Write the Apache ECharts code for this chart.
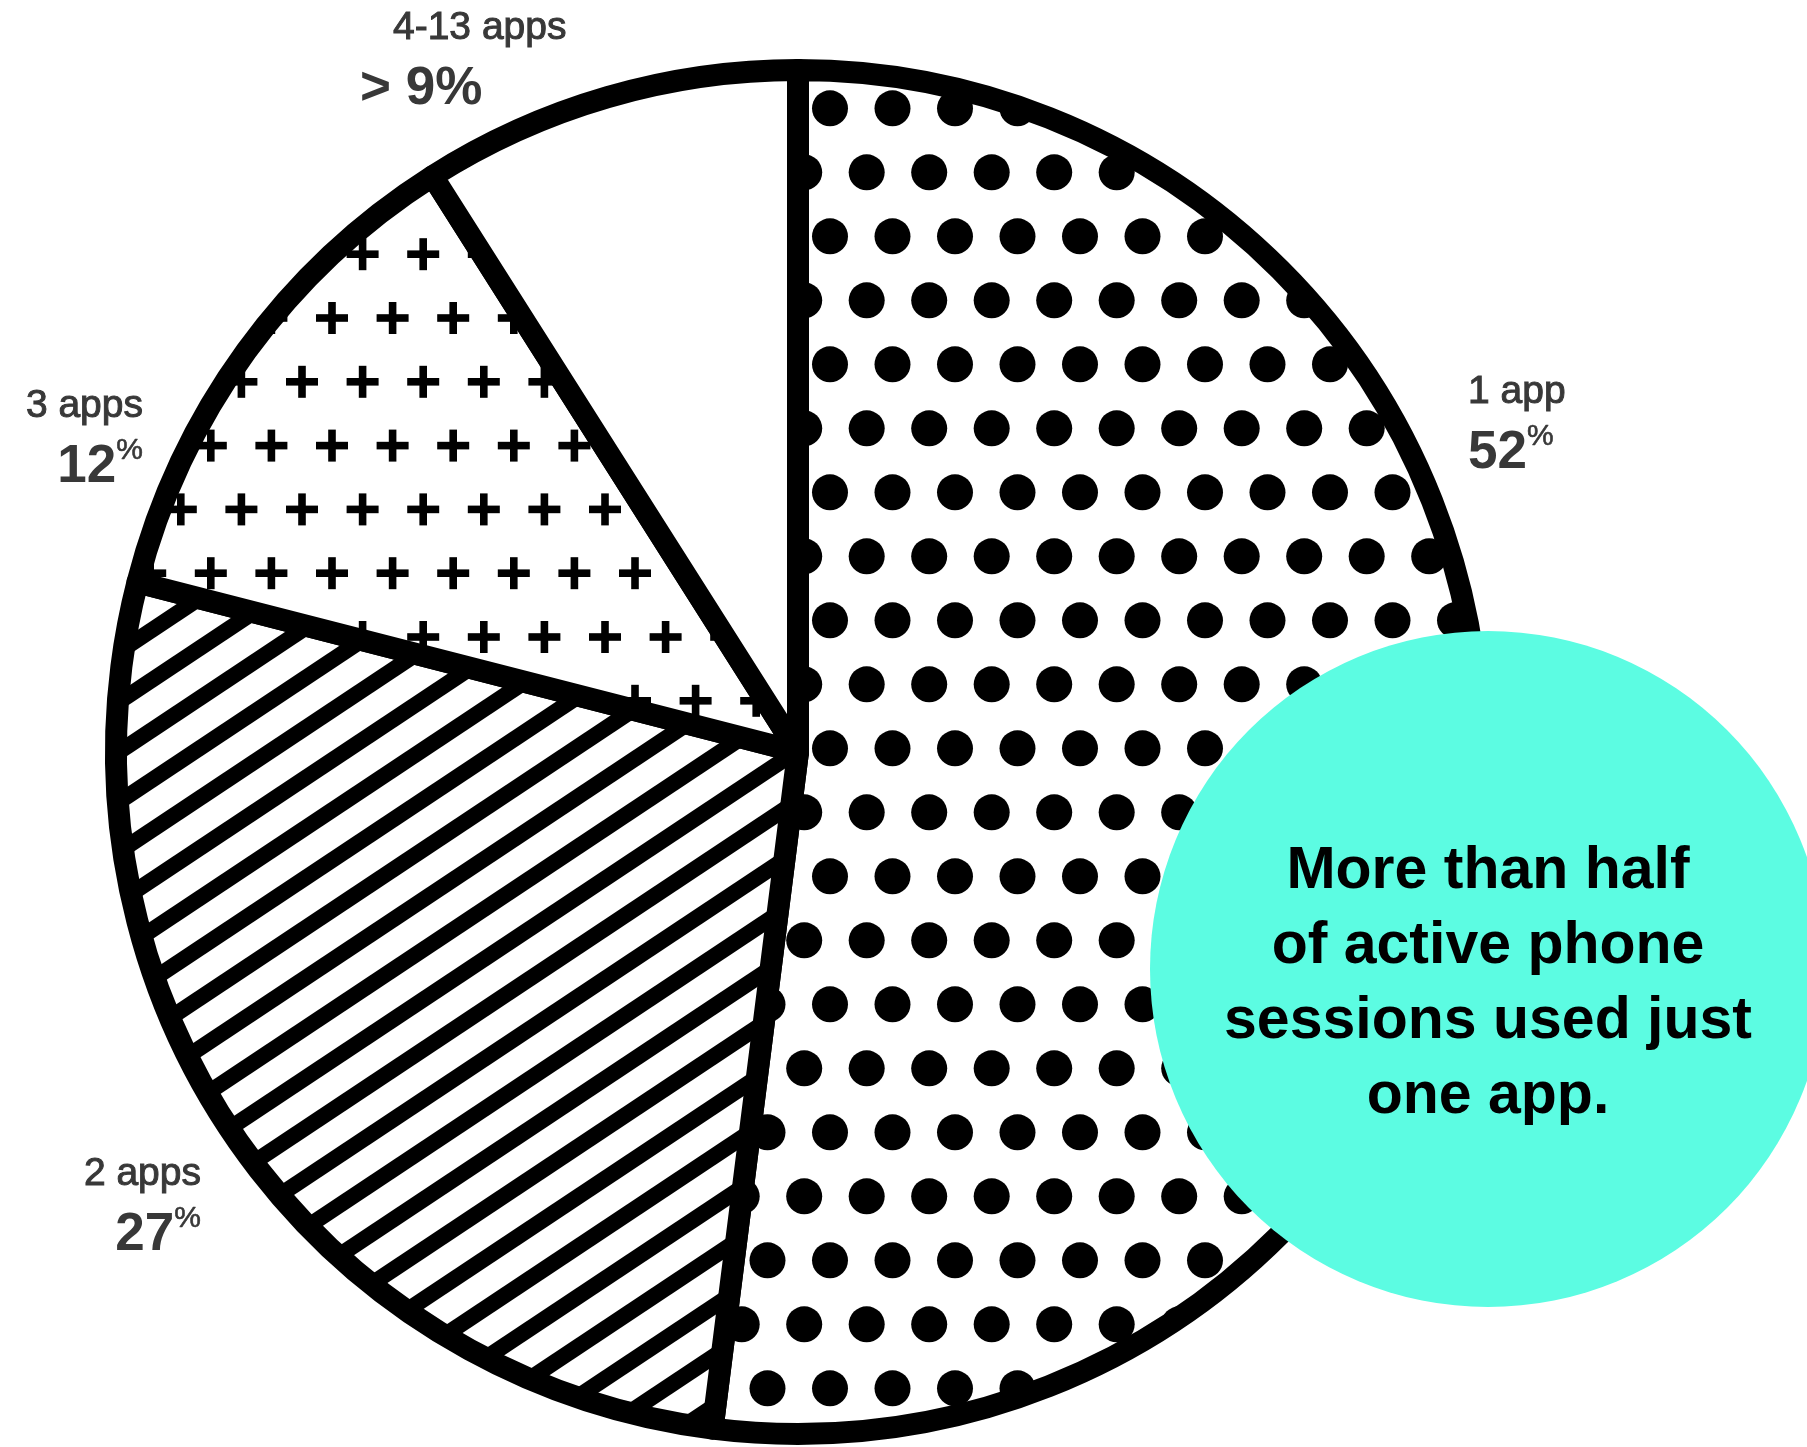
<!DOCTYPE html>
<html>
<head>
<meta charset="utf-8">
<script src="https://cdn.jsdelivr.net/npm/echarts@6/dist/echarts.min.js"></script>
<style>
  html, body { margin: 0; padding: 0; background: #ffffff; }
  #chart { width: 1807px; height: 1447px; }
</style>
</head>
<body>
<div id="chart"></div>
<script>
// Share of active phone sessions by number of apps used
const categories = ['1 app', '2 apps', '3 apps', '4-13 apps'];
const shares = [52, 27, 12, 9];
const sharePrefix = ['', '', '', '> '];
const calloutLines = ['More than half', 'of active phone', 'sessions used just', 'one app.'];

const W = 1807, H = 1447;

// Fill textures, drawn once onto page-sized canvases
function texture(draw) {
  const c = document.createElement('canvas');
  c.width = W; c.height = H;
  const ctx = c.getContext('2d');
  ctx.fillStyle = '#ffffff';
  ctx.fillRect(0, 0, W, H);
  ctx.fillStyle = '#000000';
  ctx.strokeStyle = '#000000';
  draw(ctx);
  return { image: c, repeat: 'no-repeat' };
}

// staggered polka dots
const dotFill = texture(ctx => {
  const dx = 62.5, dy = 64, r = 18;
  for (let k = -2; k * dy + 108.3 < H + dy; k++) {
    const y = 108.3 + k * dy;
    const x0 = (k % 2 === 0) ? 830 : 866.7;
    for (let x = x0 - dx * 20; x < W + dx; x += dx) {
      ctx.beginPath();
      ctx.arc(x, y, r, 0, Math.PI * 2);
      ctx.fill();
    }
  }
});

// staggered plus signs
const plusFill = texture(ctx => {
  const dx = 60.6, dy = 63.8, arm = 16, half = 3.8;
  for (let k = -6; k * dy + 318 < H + dy; k++) {
    const y = 318 + k * dy;
    const x0 = (Math.abs(k) % 2 === 0) ? 332 : 302;
    for (let x = x0 - dx * 10; x < W + dx; x += dx) {
      ctx.fillRect(x - arm, y - half, arm * 2, half * 2);
      ctx.fillRect(x - half, y - arm, half * 2, arm * 2);
    }
  }
});

// diagonal hatching rising to the right
const stripeFill = texture(ctx => {
  const t = 0.665, period = 50;
  ctx.lineWidth = 16;
  for (let c = 31 - period * 2; c < H + t * W + period; c += period) {
    ctx.beginPath();
    ctx.moveTo(-10, c + t * 10);
    ctx.lineTo(W + 10, c - t * (W + 10));
    ctx.stroke();
  }
});

const sliceFills = [dotFill, stripeFill, plusFill, '#ffffff'];

// Where each label block sits (top edge of the block)
const labelAnchors = [
  { x: 1468, y: 362, align: 'left' },
  { x: 201, y: 1144, align: 'right' },
  { x: 143, y: 376, align: 'right' },
  { x: 360, y: -2, align: 'left' }
];

const labelGrey = '#383838';
const labelFont = '"Liberation Sans", Arial, sans-serif';

const chart = echarts.init(document.getElementById('chart'), null, { renderer: 'canvas' });

chart.setOption({
  animation: false,
  backgroundColor: '#ffffff',
  series: [{
    type: 'pie',
    center: [798, 752],
    radius: 682,
    startAngle: 90,
    clockwise: true,
    silent: true,
    avoidLabelOverlap: false,
    emphasis: { disabled: true },
    itemStyle: { borderColor: '#000000', borderWidth: 22, borderJoin: 'round' },
    data: categories.map((name, i) => ({
      name: name,
      value: shares[i],
      itemStyle: { color: sliceFills[i] }
    })),
    label: {
      show: true,
      position: 'outside',
      fontFamily: labelFont,
      color: labelGrey,
      formatter: p => {
        const i = p.dataIndex;
        if (sharePrefix[i]) {
          return '{nameIn|' + p.name + '}\n{num|' + sharePrefix[i] + p.value + '%}';
        }
        return '{name|' + p.name + '}\n{num|' + p.value + '}{pct|%}';
      },
      rich: {
        name: {
          fontFamily: labelFont, fontSize: 39, lineHeight: 60, color: labelGrey,
          textBorderColor: labelGrey, textBorderWidth: 1
        },
        nameIn: {
          fontFamily: labelFont, fontSize: 39, lineHeight: 60, color: labelGrey,
          textBorderColor: labelGrey, textBorderWidth: 1, padding: [0, 0, 0, 33]
        },
        num: { fontFamily: labelFont, fontSize: 53, fontWeight: 'bold', lineHeight: 62, color: labelGrey },
        pct: {
          fontFamily: labelFont, fontSize: 30, lineHeight: 46, color: labelGrey, verticalAlign: 'top',
          textBorderColor: labelGrey, textBorderWidth: 0.6
        }
      }
    },
    labelLine: { show: false },
    labelLayout: p => {
      const a = labelAnchors[p.dataIndex];
      return { x: a.x, y: a.y, align: a.align, verticalAlign: 'top' };
    }
  }],
  graphic: [
    {
      type: 'circle',
      z: 100,
      silent: true,
      shape: { cx: 1488, cy: 969, r: 338 },
      style: { fill: '#5cfce2' }
    },
    {
      type: 'text',
      z: 101,
      silent: true,
      x: 1488,
      y: 984,
      style: {
        text: calloutLines.join('\n'),
        fontFamily: labelFont,
        fontSize: 59,
        fontWeight: 'bold',
        fill: '#000000',
        align: 'center',
        textAlign: 'center',
        verticalAlign: 'middle',
        textVerticalAlign: 'middle',
        lineHeight: 75
      }
    }
  ]
});
</script>
</body>
</html>
